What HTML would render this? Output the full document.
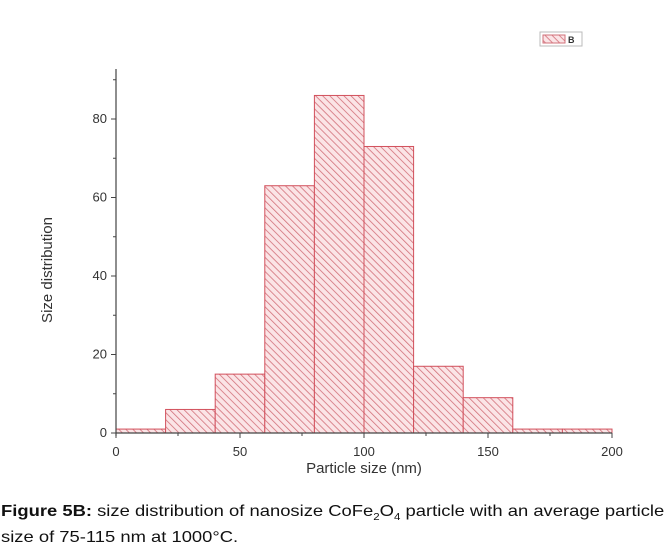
<!DOCTYPE html>
<html><head><meta charset="utf-8"><style>
body{margin:0;background:#fff;width:668px;height:550px;overflow:hidden;font-family:"Liberation Sans",Arial,sans-serif}
#cap{position:absolute;left:1px;top:502px;font-size:16px;line-height:20px;color:#111;white-space:nowrap;transform:scaleX(1.15);transform-origin:0 0}
</style></head><body>
<svg id="chart" width="668" height="500" style="position:absolute;left:0;top:0">
<defs><pattern id="hatch" patternUnits="userSpaceOnUse" width="5" height="5" patternTransform="rotate(-45)">
<rect width="5" height="5" fill="#fbe4e6"/><line x1="0" y1="0" x2="0" y2="5" stroke="#d2707a" stroke-width="1.6"/></pattern></defs>
<g id="bars"></g><g id="axes"></g>
<g>
<rect x="540" y="32" width="42" height="14" fill="#fff" stroke="#bbb"/>
<rect x="543" y="35" width="22" height="8" fill="url(#hatch)" stroke="#d2707a"/>
<text x="568" y="43" font-size="9" font-weight="bold" fill="#333">B</text>
</g>
<text x="364" y="473" font-size="15" text-anchor="middle" fill="#333">Particle size (nm)</text>
<text transform="translate(52,270) rotate(-90)" font-size="15" text-anchor="middle" fill="#333">Size distribution</text>
</svg>
<div id="cap"><b>Figure 5B:</b> size distribution of nanosize CoFe<sub style="font-size:10px">2</sub>O<sub style="font-size:10px">4</sub> particle with an average particle<br>size of 75-115 nm at 1000°C.</div>
<script>
const binStarts=[0,20,40,60,80,100,120,140,160,180];
const counts=[1,6,15,63,86,73,17,9,1,1];
const binWidth=20;
const xTicks=[0,50,100,150,200];
const yTicks=[0,20,40,60,80];
const NS='http://www.w3.org/2000/svg';
const X=v=>116+v*(612-116)/200;
const Y=v=>433-v*(433-119)/80;
const bars=document.getElementById('bars'),axes=document.getElementById('axes');
function mk(tag,at,p){const e=document.createElementNS(NS,tag);for(const k in at)e.setAttribute(k,at[k]);p.appendChild(e);return e;}
binStarts.forEach((s,i)=>{
 const r=mk('rect',{x:X(s),y:Y(counts[i]),width:X(s+binWidth)-X(s),height:Y(0)-Y(counts[i]),fill:'url(#hatch)',stroke:'#d2505c','stroke-width':1},bars);
 
 
});
mk('line',{x1:X(0),y1:Y(0),x2:X(200),y2:Y(0),stroke:'#444','stroke-width':1.2},axes);
mk('line',{x1:X(0),y1:69,x2:X(0),y2:Y(0)+3,stroke:'#444','stroke-width':1.2},axes);
xTicks.forEach(t=>{
 mk('line',{x1:X(t),y1:Y(0),x2:X(t),y2:Y(0)+5,stroke:'#444'},axes);
 const tx=mk('text',{x:X(t),y:Y(0)+23,'font-size':13,'text-anchor':'middle',fill:'#333'},axes);tx.textContent=t;
 
 
});
[25,75,125,175].forEach(t=>mk('line',{x1:X(t),y1:Y(0),x2:X(t),y2:Y(0)+3,stroke:'#444'},axes));
yTicks.forEach(t=>{
 mk('line',{x1:X(0)-5,y1:Y(t),x2:X(0),y2:Y(t),stroke:'#444'},axes);
 const tx=mk('text',{x:X(0)-9,y:Y(t)+4,'font-size':13,'text-anchor':'end',fill:'#333'},axes);tx.textContent=t;
 
 
});
[10,30,50,70,90].forEach(t=>mk('line',{x1:X(0)-3,y1:Y(t),x2:X(0),y2:Y(t),stroke:'#444'},axes));
</script>
</body></html>
